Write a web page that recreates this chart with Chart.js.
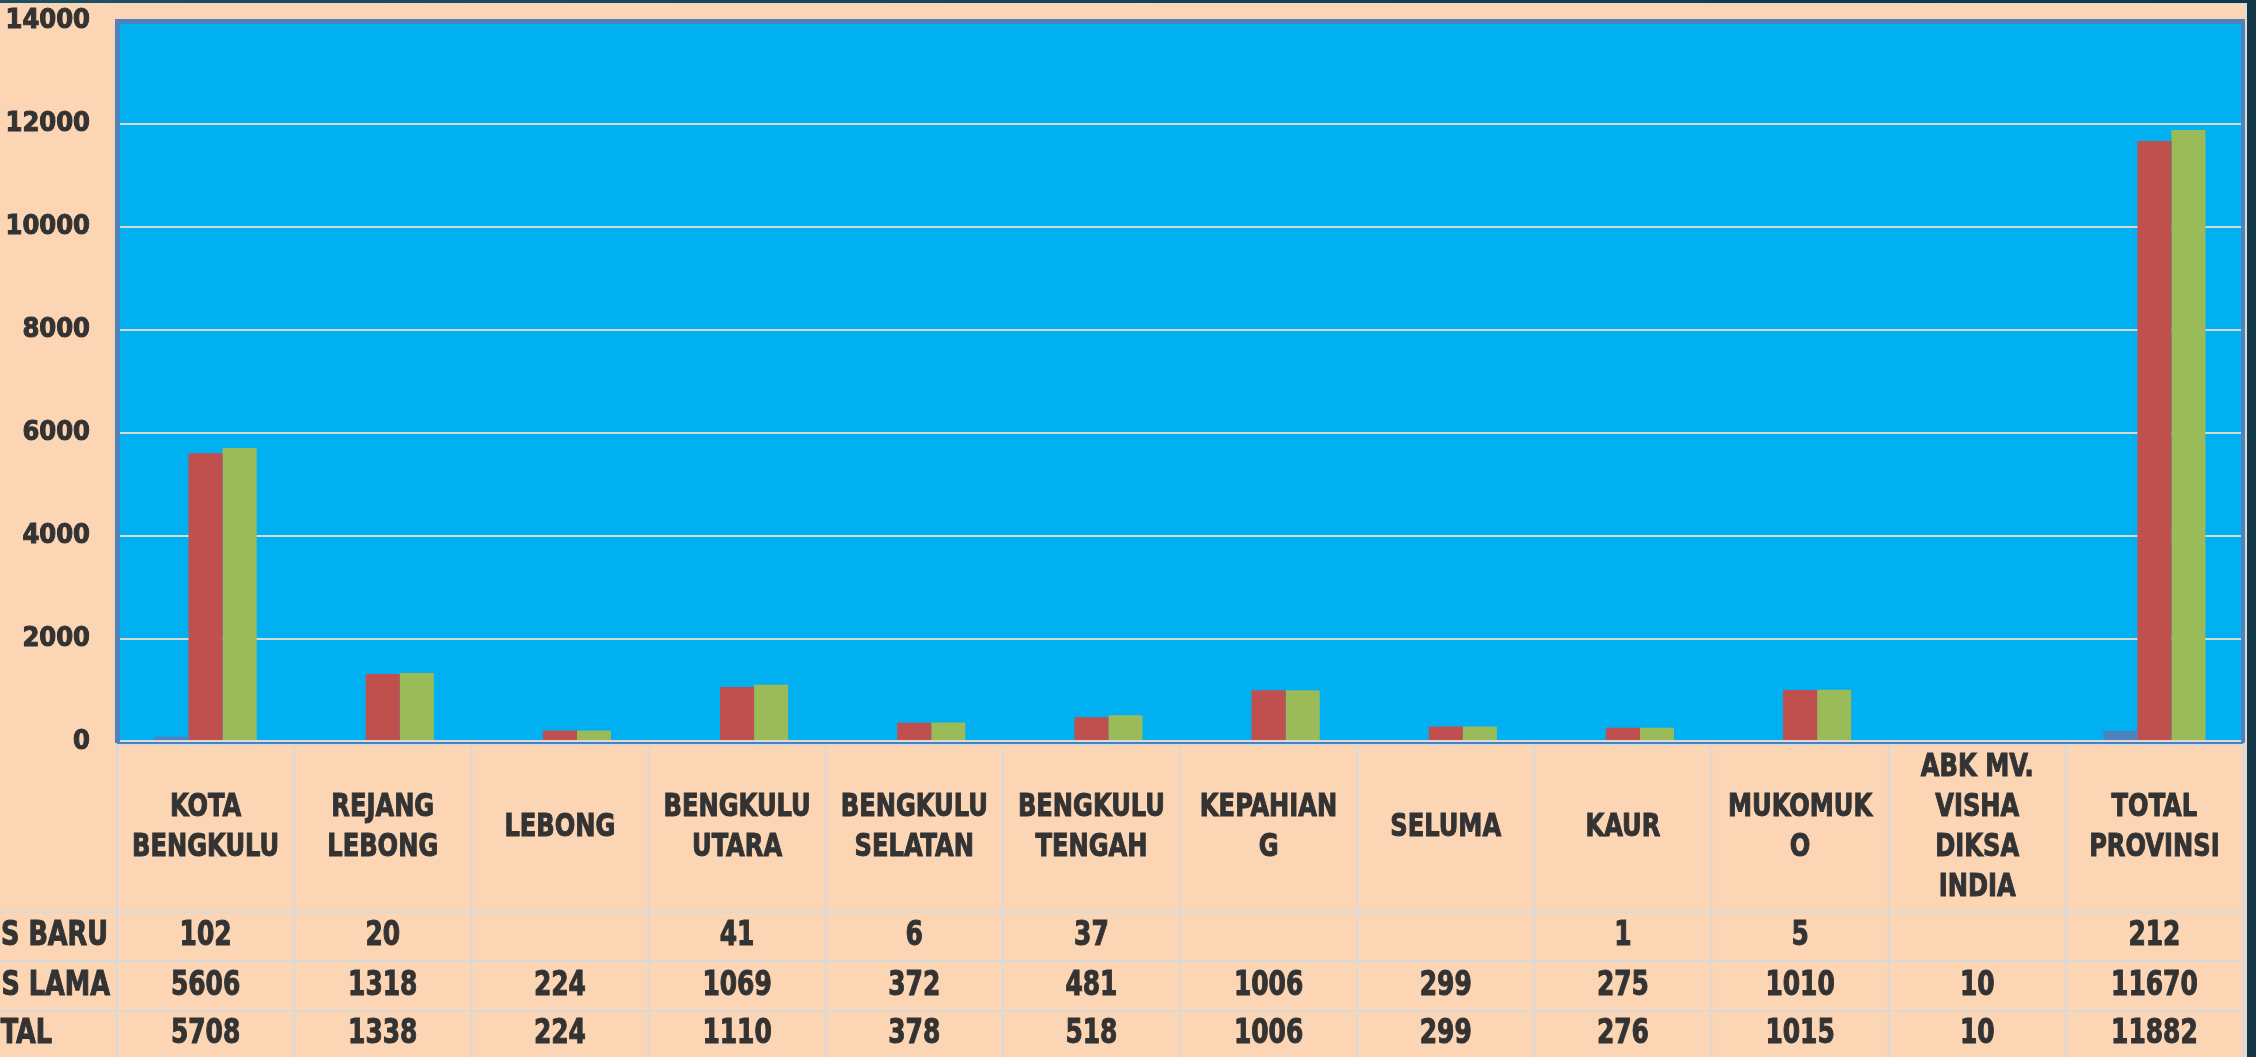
<!DOCTYPE html>
<html>
<head>
<meta charset="utf-8">
<script src="https://cdn.jsdelivr.net/npm/chart.js@4.4.1/dist/chart.umd.min.js"></script>
<style>
  html, body { margin: 0; padding: 0; background: #163d4a; overflow: hidden; }
  #chart { display: block; }
</style>
</head>
<body>
<canvas id="chart" width="2256" height="1057"></canvas>
<script>
/* ── Data ── */
const regions = [
    ['KOTA', 'BENGKULU'], ['REJANG', 'LEBONG'], ['LEBONG'], ['BENGKULU', 'UTARA'],
    ['BENGKULU', 'SELATAN'], ['BENGKULU', 'TENGAH'], ['KEPAHIAN', 'G'], ['SELUMA'],
    ['KAUR'], ['MUKOMUK', 'O'], ['ABK MV.', 'VISHA', 'DIKSA', 'INDIA'], ['TOTAL', 'PROVINSI']
];
const kasusBaru = [102, 20, null, 41, 6, 37, null, null, 1, 5, null, 212];
const kasusLama = [5606, 1318, 224, 1069, 372, 481, 1006, 299, 275, 1010, 10, 11670];
const total     = [5708, 1338, 224, 1110, 378, 518, 1006, 299, 276, 1015, 10, 11882];
const seriesNames = ['KASUS BARU', 'KASUS LAMA', 'TOTAL'];

const FONT = '"DejaVu Sans Condensed", "DejaVu Sans", sans-serif';
const TEXT = '#333333';
const LINE = '#d9d9d9';
const SQUEEZE = 0.84;   // the original face is very condensed, narrow the glyphs a bit

function squeezedText(ctx, t, x, y, align, sx = SQUEEZE) {
    ctx.save();
    ctx.translate(x, y);
    ctx.scale(sx, 1);
    ctx.textAlign = align;
    ctx.fillText(t, 0, 0);
    ctx.strokeText(t, 0, 0);   // extra weight
    ctx.restore();
}

/* ── Background, plot fill and frame ── */
const backdrop = {
    id: 'backdrop',
    beforeDraw(chart) {
        const { ctx, chartArea: a, width, height } = chart;
        ctx.save();
        const g = ctx.createLinearGradient(0, 0, width, 0);
        g.addColorStop(0, '#214f5a');
        g.addColorStop(1, '#133746');
        ctx.fillStyle = g;
        ctx.fillRect(0, 0, width, height);
        ctx.fillStyle = '#dcdcdc';
        ctx.fillRect(0, 3, 2247, height);
        ctx.fillStyle = '#fcd5b4';
        ctx.fillRect(0, 4, 2245, height);
        ctx.fillStyle = '#00b0f0';
        ctx.fillRect(a.left, a.top, a.right - a.left, a.bottom - a.top);
        ctx.restore();
    },
    afterDatasetsDraw(chart) {
        const { ctx, chartArea: a } = chart;
        ctx.save();
        // zero gridline sits on top of the bars, blue axis line just below it
        ctx.fillStyle = LINE;
        ctx.fillRect(a.left, a.bottom - 2, a.right - a.left, 2);
        ctx.fillStyle = '#4f81bd';
        ctx.fillRect(a.left, a.bottom, a.right - a.left, 2);
        ctx.fillRect(a.left - 2, a.top - 2, 5, a.bottom - a.top + 3);
        ctx.fillRect(a.left - 2, a.top - 2, a.right - a.left + 4, 5);
        ctx.fillRect(a.right - 2, a.top - 2, 4, a.bottom - a.top + 3);
        ctx.restore();
    }
};

/* ── Data table under the plot ── */
const dataTable = {
    id: 'dataTable',
    afterDraw(chart) {
        const { ctx, chartArea: a } = chart;
        const x = chart.scales.x;
        const half = (x.getPixelForValue(1) - x.getPixelForValue(0)) / 2;
        const top = a.bottom + 2, headBottom = 912, rows = [912, 961, 1011, 1058];
        const labelRight = [108, 110, 52];

        ctx.save();
        ctx.strokeStyle = LINE;
        ctx.lineWidth = 2;
        ctx.beginPath();
        ctx.moveTo(a.left, top + 1); ctx.lineTo(a.right, top + 1);
        rows.slice(0, 3).forEach(y => { ctx.moveTo(0, y); ctx.lineTo(a.right, y); });
        for (let i = 0; i <= regions.length; i++) {
            const bx = i < regions.length ? x.getPixelForValue(i) - half : a.right;
            ctx.moveTo(bx, top); ctx.lineTo(bx, chart.height);
        }
        ctx.stroke();

        ctx.fillStyle = TEXT;
        ctx.strokeStyle = TEXT;
        ctx.lineWidth = 1;
        ctx.textBaseline = 'middle';

        // header: region names
        ctx.font = `bold 32px ${FONT}`;
        const mid = (top + headBottom) / 2;
        regions.forEach((lines, i) => {
            const cx = x.getPixelForValue(i);
            lines.forEach((t, k) => {
                squeezedText(ctx, t, cx, mid + (k - (lines.length - 1) / 2) * 40, 'center');
            });
        });

        // value rows
        ctx.font = `bold 33px ${FONT}`;
        [kasusBaru, kasusLama, total].forEach((vals, r) => {
            const cy = (rows[r] + rows[r + 1]) / 2;
            squeezedText(ctx, seriesNames[r], labelRight[r], cy, 'right', 0.86);
            vals.forEach((v, i) => {
                if (v !== null) squeezedText(ctx, String(v), x.getPixelForValue(i), cy, 'center');
            });
        });
        ctx.restore();
    }
};

new Chart(document.getElementById('chart'), {
    type: 'bar',
    data: {
        labels: regions.map(l => l.join(' ')),
        datasets: [
            { label: seriesNames[0], data: kasusBaru, backgroundColor: '#4f81bd' },
            { label: seriesNames[1], data: kasusLama, backgroundColor: '#c0504d' },
            { label: seriesNames[2], data: total, backgroundColor: '#9bbb59' },
        ]
    },
    options: {
        responsive: false,
        animation: false,
        devicePixelRatio: 1,
        layout: { padding: { left: 0, top: 21, right: 13, bottom: 315 } },
        datasets: { bar: { categoryPercentage: 0.577, barPercentage: 1.0 } },
        plugins: { legend: { display: false }, tooltip: { enabled: false } },
        scales: {
            x: { display: false },
            y: {
                min: 0, max: 14000,
                afterFit: (s) => { s.width = 117; s.paddingTop = 0; s.paddingBottom = 0; },
                border: { display: false },
                grid: { color: LINE, lineWidth: 2, drawTicks: false },
                ticks: {
                    stepSize: 2000, padding: 27, color: TEXT,
                    textStrokeColor: TEXT, textStrokeWidth: 1,
                    font: { family: FONT, size: 27, weight: 'bold' },
                    callback: (v) => String(v)
                }
            }
        }
    },
    plugins: [backdrop, dataTable]
});
</script>
</body>
</html>
